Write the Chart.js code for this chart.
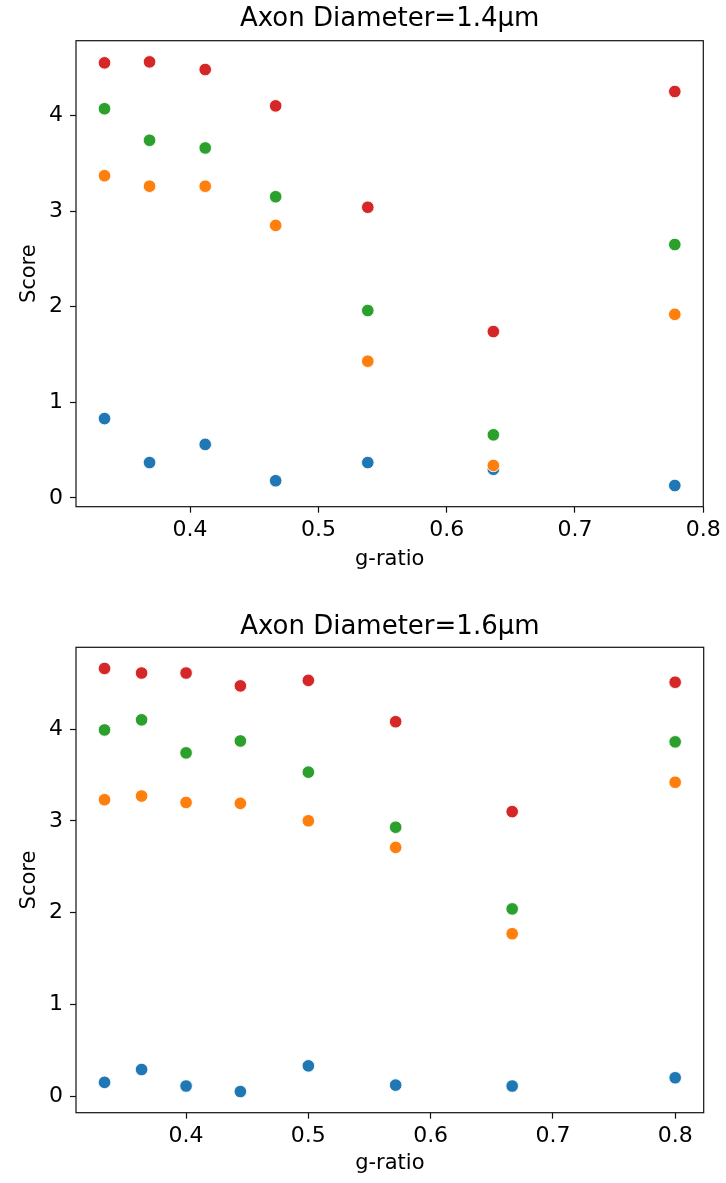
<!DOCTYPE html>
<html>
<head>
<meta charset="utf-8">
<script src="https://cdn.jsdelivr.net/npm/chart.js@4.4.1/dist/chart.umd.min.js"></script>
<style>
  html, body { margin: 0; padding: 0; background: #fff; }
  #wrap { position: relative; width: 726px; height: 1183px; overflow: hidden; background: #fff; }
  #wrap canvas { position: absolute; left: 0; }
</style>
</head>
<body>
<div id="wrap">
  <canvas id="panel14" width="726" height="590" style="top:0px"></canvas>
  <canvas id="panel16" width="726" height="593" style="top:590px"></canvas>
</div>
<script>
// Axon diameter 1.4 µm: g-ratio per sample and the four score series
const gRatio14 = [0.3333, 0.3684, 0.4118, 0.4667, 0.5385, 0.6364, 0.7778];
const score14Blue   = [0.83, 0.37, 0.56, 0.18, 0.37, 0.30, 0.13];
const score14Orange = [3.37, 3.26, 3.26, 2.85, 1.43, 0.34, 1.92];
const score14Green  = [4.07, 3.74, 3.66, 3.15, 1.96, 0.66, 2.65];
const score14Red    = [4.55, 4.56, 4.48, 4.10, 3.04, 1.74, 4.25];

// Axon diameter 1.6 µm
const gRatio16 = [0.3333, 0.3636, 0.4000, 0.4444, 0.5000, 0.5714, 0.6667, 0.8000];
const score16Blue   = [0.15, 0.29, 0.11, 0.05, 0.33, 0.12, 0.11, 0.20];
const score16Orange = [3.23, 3.27, 3.20, 3.19, 3.00, 2.71, 1.77, 3.42];
const score16Green  = [3.99, 4.10, 3.74, 3.87, 3.53, 2.93, 2.04, 3.86];
const score16Red    = [4.66, 4.61, 4.61, 4.47, 4.53, 4.08, 3.10, 4.51];

// Tick marks and their labels
const xTickValues = [0.4, 0.5, 0.6, 0.7, 0.8];
const xTickLabels = ['0.4', '0.5', '0.6', '0.7', '0.8'];
const yTickValues = [0, 1, 2, 3, 4];
const yTickLabels = ['0', '1', '2', '3', '4'];

const titles = ['Axon Diameter=1.4μm', 'Axon Diameter=1.6μm'];
const seriesColors = ['#1f77b4', '#ff7f0e', '#2ca02c', '#d62728'];

Chart.defaults.font.family = "'DejaVu Sans', sans-serif";
Chart.defaults.color = '#000';

// Closed box around the plotting area
const frameBox = {
  id: 'frameBox',
  afterDraw(chart) {
    const { ctx, chartArea: a } = chart;
    ctx.save();
    ctx.strokeStyle = '#111';
    ctx.lineWidth = 1.2;
    ctx.strokeRect(a.left, a.top, a.right - a.left, a.bottom - a.top);
    ctx.restore();
  }
};

// Axis limits with a 5% margin on each side of the data
function padded(values) {
  const lo = Math.min(...values), hi = Math.max(...values);
  const m = (hi - lo) * 0.05;
  return { min: lo - m, max: hi + m };
}

function makePanel(id, opt) {
  const series = [opt.blue, opt.orange, opt.green, opt.red];
  const datasets = series.map((ys, i) => ({
    data: opt.x.map((xv, j) => ({ x: xv, y: ys[j] })),
    backgroundColor: seriesColors[i],
    borderColor: '#ffffff',
    borderWidth: 0.9,
    pointRadius: 6.3,
    pointHoverRadius: 6.3,
    order: 4 - i
  }));
  const xr = padded(opt.x);
  const yr = padded([].concat(...series));

  return new Chart(document.getElementById(id), {
    type: 'scatter',
    data: { datasets },
    plugins: [frameBox],
    options: {
      responsive: false,
      animation: false,
      events: [],
      layout: { autoPadding: false, padding: { left: 0, top: 0, bottom: 0, right: opt.padRight } },
      plugins: {
        legend: { display: false },
        tooltip: { enabled: false },
        title: {
          display: true,
          fullSize: false,
          text: opt.title,
          color: '#000',
          font: { size: 26, weight: 'normal' },
          padding: { top: opt.titleTop, bottom: opt.titleBottom }
        }
      },
      scales: {
        x: {
          type: 'linear',
          position: 'bottom',
          min: xr.min,
          max: xr.max,
          afterBuildTicks: s => { s.ticks = xTickValues.map(v => ({ value: v })); },
          afterFit: s => { s.height = opt.xAxisHeight; s.paddingLeft = 0; s.paddingRight = 0; },
          ticks: {
            autoSkip: false, maxRotation: 0, minRotation: 0,
            padding: 4, color: '#000',
            font: { size: 22 },
            callback: v => xTickLabels[xTickValues.indexOf(v)]
          },
          grid: { drawOnChartArea: false, drawTicks: true, tickLength: 6, tickWidth: 1.2, tickColor: '#111' },
          border: { display: false },
          title: {
            display: true, text: 'g-ratio', color: '#000',
            font: { size: 21 },
            padding: { top: 0, bottom: opt.xTitleBottom }
          }
        },
        y: {
          type: 'linear',
          position: 'left',
          min: yr.min,
          max: yr.max,
          afterBuildTicks: s => { s.ticks = yTickValues.map(v => ({ value: v })); },
          afterFit: s => { s.width = 76; s.paddingTop = 0; s.paddingBottom = 0; },
          ticks: {
            autoSkip: false, padding: 7, color: '#000',
            font: { size: 22 },
            callback: v => yTickLabels[yTickValues.indexOf(v)]
          },
          grid: { drawOnChartArea: false, drawTicks: true, tickLength: 6, tickWidth: 1.2, tickColor: '#111' },
          border: { display: false },
          title: {
            display: true, text: 'Score', color: '#000',
            font: { size: 21 },
            padding: { top: 17, bottom: 0 }
          }
        }
      }
    }
  });
}

makePanel('panel14', {
  title: titles[0], x: gRatio14,
  blue: score14Blue, orange: score14Orange, green: score14Green, red: score14Red,
  titleTop: 4, titleBottom: 5.5, xAxisHeight: 83.3, xTitleBottom: 17.5, padRight: 22.7
});

makePanel('panel16', {
  title: titles[1], x: gRatio16,
  blue: score16Blue, orange: score16Orange, green: score16Green, red: score16Red,
  titleTop: 22, titleBottom: 4.1, xAxisHeight: 70.3, xTitleBottom: 6.5, padRight: 22.3
});
</script>
</body>
</html>
